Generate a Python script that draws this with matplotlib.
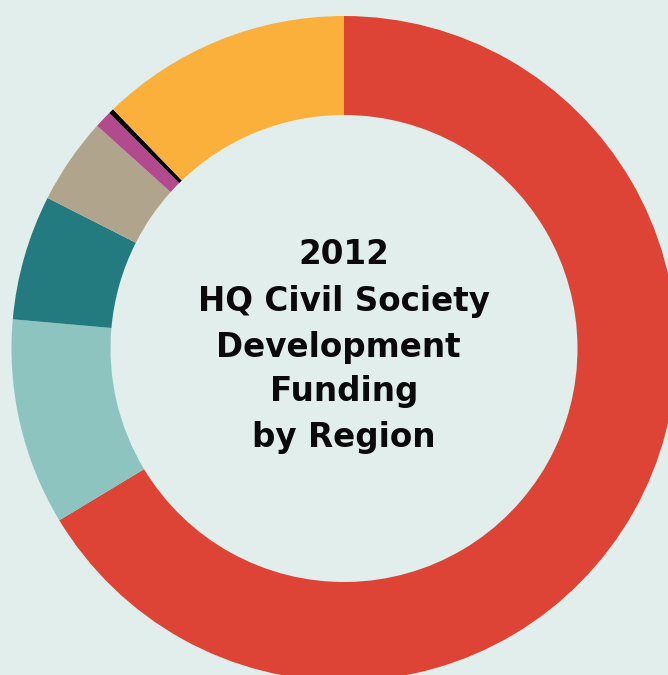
import matplotlib
matplotlib.use("Agg")
import matplotlib.pyplot as plt

# Share of funding per region, clockwise from 12 o'clock
regions = ["Region A", "Region B", "Region C", "Region D", "Region E", "Region F", "Region G"]
shares = [66.36, 10.04, 6.08, 4.20, 0.85, 0.25, 12.22]
colors = ["#DE4435", "#8DC4BF", "#237B80", "#B0A48D", "#B24A8E", "#000000", "#FBB03B"]

title_lines = ["2012", "HQ Civil Society", "Development ", "Funding", "by Region"]

BG = "#E1EEEC"
W, H = 668, 675

fig = plt.figure(figsize=(W / 100, H / 100), dpi=100, facecolor=BG)
ax = fig.add_axes([0, 0, 1, 1])
ax.set_facecolor(BG)

cx, cy = 344, H - 348.5
outer_r = 332.5
ring = 99

ax.pie(shares, colors=colors, startangle=90, counterclock=False,
       center=(cx, cy), radius=outer_r, frame=True,
       wedgeprops=dict(width=ring, linewidth=0, edgecolor="none"))
ax.set_xlim(0, W)
ax.set_ylim(0, H)
ax.set_aspect("equal")
ax.axis("off")

# centre title, one line at a time
line_y = [255, 302, 348, 392, 437]
for txt, y in zip(title_lines, line_y):
    ax.text(cx, H - y, txt, ha="center", va="center", fontsize=23.5,
            fontweight="bold", family="DejaVu Sans", color="#0A0A0A")

fig.savefig("out.png", dpi=100, facecolor=BG)
